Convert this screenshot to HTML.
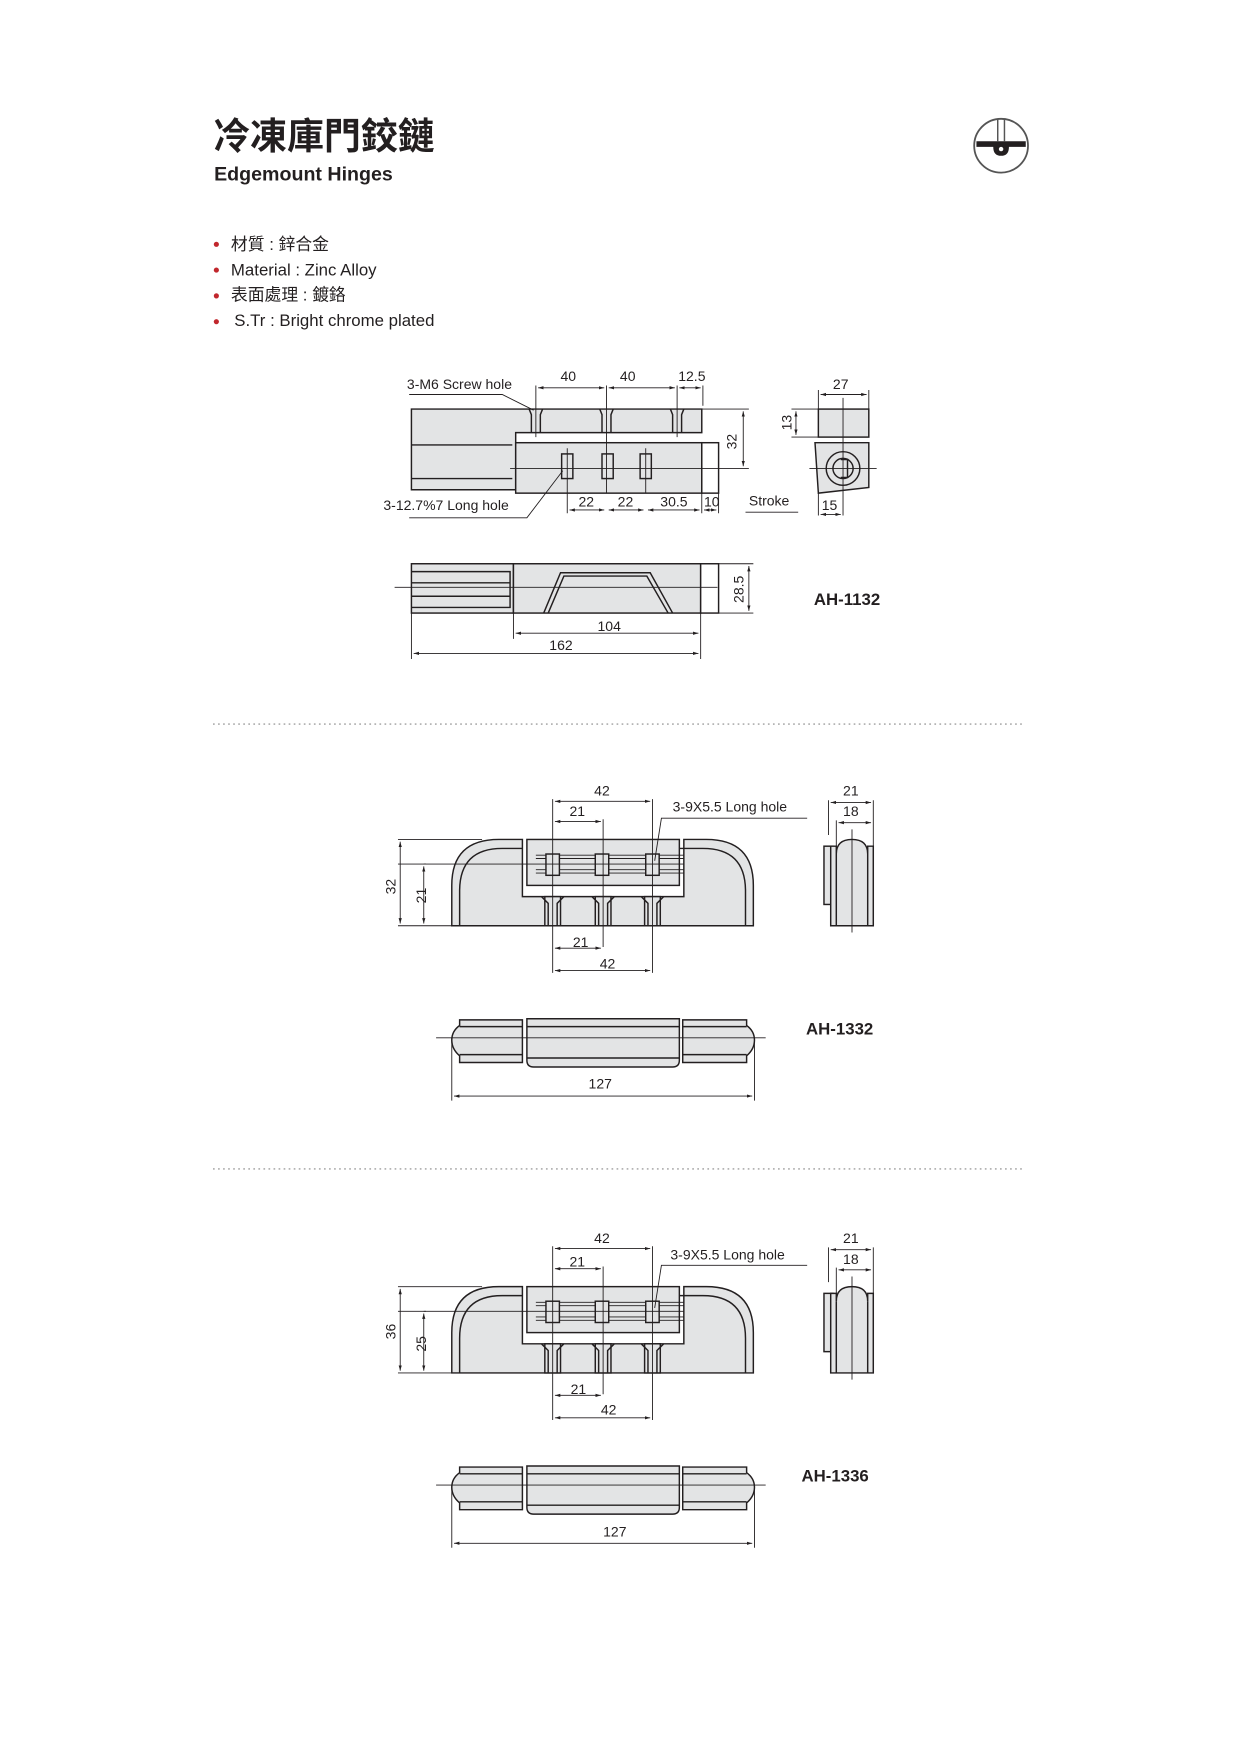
<!DOCTYPE html>
<html><head><meta charset="utf-8"><style>
html,body{margin:0;padding:0;background:#fff;}
svg{display:block;}
text{font-family:"Liberation Sans","Noto Sans CJK TC",sans-serif;fill:#231f20;}
.s{stroke:#231f20;stroke-width:1.3;fill:none;}
.g{fill:#e3e4e5;stroke:#231f20;stroke-width:1.3;}
.t{stroke:#231f20;stroke-width:0.8;fill:none;}
.d{font-size:12.5px;}
</style></head><body>
<svg width="1241" height="1754" viewBox="0 0 1107 1565" preserveAspectRatio="none" xmlns="http://www.w3.org/2000/svg">
<defs>
<marker id="a" viewBox="0 0 10 10" refX="10" refY="5" markerWidth="6" markerHeight="6" orient="auto-start-reverse"><path d="M0,2 L10,5 L0,8z" fill="#231f20"/></marker>
<g id="hinge">
 <path class="g" d="M403,826 L403,790 Q403,749 445,749 L466,749 L466,800 L610,800 L610,749 L630,749 Q672,749 672,790 L672,826 Z"/>
 <path class="s" d="M410,826 L410,795 Q410,757 448,757 L466,757 M603,757 L627,757 Q665,757 665,795 L665,826"/>
 <rect class="g" x="470" y="749" width="136" height="41"/>
 <rect class="g" x="486" y="800" width="14" height="26"/><rect class="g" x="531" y="800" width="14" height="26"/><rect class="g" x="575" y="800" width="14" height="26"/>
 <path class="s" d="M483,800 L489,806 L489,826 M503,800 L497,806 L497,826 M528,800 L534,806 L534,826 M548,800 L542,806 L542,826 M572,800 L578,806 L578,826 M592,800 L586,806 L586,826"/>
 <path class="t" d="M478,766 L610,766 M478,776 L610,776 M478,763 L610,763 M478,779 L610,779"/>
 <rect class="g" x="487" y="762" width="12" height="19"/><rect class="g" x="531" y="762" width="12" height="19"/><rect class="g" x="576" y="762" width="12" height="19"/>
 <path class="t" d="M355,771 L610,771"/>
 <path class="t" d="M355,749 L430,749 M355,826 L403,826 M378,771 L380,771"/>
 <path class="t" marker-start="url(#a)" marker-end="url(#a)" d="M357,751 L357,824"/>
 <path class="t" marker-start="url(#a)" marker-end="url(#a)" d="M378,773 L378,824"/>
 <path class="t" d="M493,713 L493,868 M538,731 L538,845 M582,713 L582,868"/>
 <path class="t" marker-start="url(#a)" marker-end="url(#a)" d="M495,715 L580,715"/>
 <path class="t" marker-start="url(#a)" marker-end="url(#a)" d="M495,733 L536,733"/>
 <path class="t" marker-start="url(#a)" marker-end="url(#a)" d="M495,846 L536,846"/>
 <path class="t" marker-start="url(#a)" marker-end="url(#a)" d="M495,866 L580,866"/>
 <path class="t" d="M720,730 L590,730 L584,768"/>
 <rect class="g" x="735" y="755" width="8" height="52"/>
 <path class="g" d="M741,826 L741,755 L746,755 L746,762 Q746,749 760,749 Q774,749 774,762 L774,755 L779,755 L779,826 Z"/>
 <path class="s" d="M746,762 L746,826 M774,762 L774,826"/>
 <path class="t" d="M760,740 L760,832 M739,714 L739,745 M779,714 L779,755 M746,732 L746,755"/>
 <path class="t" marker-start="url(#a)" marker-end="url(#a)" d="M741,716 L777,716"/>
 <path class="t" marker-start="url(#a)" marker-end="url(#a)" d="M748,734 L777,734"/>
 <path class="g" d="M410,910 L466,910 L466,948 L410,948 L410,942 Q403,936 403,928 Q403,920 410,915 Z"/>
 <path class="s" d="M410,916 L466,916 M410,941 L466,941"/>
 <path class="g" d="M470,909 L606,909 L606,946 Q606,952 600,952 L476,952 Q470,952 470,946 Z"/>
 <path class="s" d="M470,916 L606,916 M470,944 L606,944"/>
 <path class="g" d="M609,910 L666,910 L666,915 Q673,920 673,928 Q673,936 666,942 L666,948 L609,948 Z"/>
 <path class="s" d="M609,916 L666,916 M609,941 L666,941"/>
 <path class="t" d="M389,926 L683,926 M403,926 L403,982 M673,926 L673,982"/>
 <path class="t" marker-start="url(#a)" marker-end="url(#a)" d="M405,978 L671,978"/>
</g>
</defs>

<text x="190" y="133" font-size="33" font-weight="bold" style="font-family:'Noto Sans CJK TC','Liberation Sans',sans-serif">冷凍庫門鉸鏈</text>
<text x="191" y="161" font-size="17.5" font-weight="bold">Edgemount Hinges</text>
<g>
 <circle cx="893" cy="130" r="24" fill="#fff" stroke="#555" stroke-width="1.6"/>
 <path d="M871,126 L915,126 L915,131 L900,131 Q900,139 893,139 Q886,139 886,131 L871,131Z" fill="#231f20"/>
 <circle cx="893" cy="133" r="2" fill="#fff"/>
 <path d="M890,106 L890,126 M896,106 L896,126" stroke="#555" stroke-width="1.3"/>
</g>
<g font-size="15">
 <circle cx="193" cy="218" r="2.3" fill="#c1272d"/><text x="206" y="223">材質 : 鋅合金</text>
 <circle cx="193" cy="241" r="2.3" fill="#c1272d"/><text x="206" y="246">Material : Zinc Alloy</text>
 <circle cx="193" cy="264" r="2.3" fill="#c1272d"/><text x="206" y="268">表面處理 : 鍍鉻</text>
 <circle cx="193" cy="287" r="2.3" fill="#c1272d"/><text x="209" y="291">S.Tr : Bright chrome plated</text>
</g>

<g>
 <path class="g" d="M367,365 L626,365 L626,386 L460,386 L460,437 L367,437 Z"/>
 <path class="s" d="M367,397 L457,397 M367,427 L457,427"/>
 <rect class="g" x="460" y="395" width="166" height="45"/>
 <rect fill="#fff" stroke="#231f20" stroke-width="1.3" x="626" y="395" width="15" height="45"/>
 <path class="s" d="M472,365 L474,370 L474,386 M484,365 L482,370 L482,386 M535,365 L537,370 L537,386 M547,365 L545,370 L545,386 M598,365 L600,370 L600,386 M610,365 L608,370 L608,386"/>
 <rect class="g" x="501" y="405" width="10" height="22"/><rect class="g" x="537" y="405" width="10" height="22"/><rect class="g" x="571" y="405" width="10" height="22"/>
 <path class="t" d="M455,418 L645,418 M506,400 L506,440 M541,344 L541,440 M576,400 L576,440 M478,344 L478,390 M604,344 L604,390 M627,344 L627,362 M626,365 L668,365 M641,418 L668,418"/>
 <path class="t" marker-start="url(#a)" marker-end="url(#a)" d="M480,346 L539,346"/>
 <path class="t" marker-start="url(#a)" marker-end="url(#a)" d="M543,346 L602,346"/>
 <path class="t" marker-start="url(#a)" marker-end="url(#a)" d="M606,346 L625,346"/>
 <path class="t" marker-start="url(#a)" marker-end="url(#a)" d="M663,367 L663,416"/>
 <path class="t" d="M506,440 L506,458 M626,440 L626,458 M641,440 L641,458"/>
 <path class="t" marker-start="url(#a)" marker-end="url(#a)" d="M508,455 L539,455"/>
 <path class="t" marker-start="url(#a)" marker-end="url(#a)" d="M543,455 L574,455"/>
 <path class="t" marker-start="url(#a)" marker-end="url(#a)" d="M578,455 L624,455"/>
 <path class="t" marker-start="url(#a)" marker-end="url(#a)" d="M628,455 L639,455"/>
 <text class="d" x="500" y="340">40</text><text class="d" x="553" y="340">40</text><text class="d" x="605" y="340">12.5</text>
 <text class="d" transform="translate(657,401) rotate(-90)">32</text>
 <text class="d" x="516" y="452">22</text><text class="d" x="551" y="452">22</text><text class="d" x="589" y="452">30.5</text><text class="d" x="628" y="452" font-size="11">10</text>
 <text class="d" x="363" y="347">3-M6 Screw hole</text>
 <path class="t" d="M365,352 L448,352 L476,366"/>
 <text class="d" x="342" y="455">3-12.7%7 Long hole</text>
 <path class="t" d="M365,462 L470,462 L502,420"/>
 <text class="d" x="668" y="451">Stroke</text>
 <path class="t" d="M665,457 L712,457"/>
 <rect class="g" x="730" y="365" width="45" height="25"/>
 <path class="g" d="M727,395 L775,395 L775,435 L730,440 Z"/>
 <circle class="s" cx="752" cy="418" r="15"/><circle class="s" cx="752" cy="418" r="9"/>
 <path class="s" d="M750,410 L756,410 L756,426 L750,426"/>
 <path class="t" d="M752,355 L752,460 M722,418 L782,418 M730,348 L730,365 M775,348 L775,365 M706,365 L730,365 M706,390 L730,390 M730,440 L730,460"/>
 <path class="t" marker-start="url(#a)" marker-end="url(#a)" d="M732,352 L773,352"/>
 <path class="t" marker-start="url(#a)" marker-end="url(#a)" d="M710,367 L710,388"/>
 <path class="t" marker-start="url(#a)" marker-end="url(#a)" d="M732,459 L750,459"/>
 <text class="d" x="743" y="347">27</text>
 <text class="d" transform="translate(706,384) rotate(-90)">13</text>
 <text class="d" x="733" y="455">15</text>
 <rect class="g" x="367" y="503" width="91" height="44"/>
 <path class="s" d="M367,510 L455,510 L455,542 L367,542 M367,520 L455,520 M367,532 L455,532"/>
 <rect class="g" x="458" y="503" width="167" height="44"/>
 <rect fill="#fff" stroke="#231f20" stroke-width="1.3" x="625" y="503" width="16" height="44"/>
 <path class="s" d="M485,547 L500,511 L580,511 L600,547 M489,547 L503,514 L577,514 L596,547"/>
 <path class="t" d="M352,524 L640,524 M641,503 L672,503 M641,547 L672,547 M458,547 L458,570 M625,547 L625,588 M367,547 L367,588"/>
 <path class="t" marker-start="url(#a)" marker-end="url(#a)" d="M668,505 L668,545"/>
 <path class="t" marker-start="url(#a)" marker-end="url(#a)" d="M460,565 L623,565"/>
 <path class="t" marker-start="url(#a)" marker-end="url(#a)" d="M369,583 L623,583"/>
 <text class="d" transform="translate(663,538) rotate(-90)">28.5</text>
 <text class="d" x="533" y="563">104</text><text class="d" x="490" y="580">162</text>
 <text x="726" y="540" font-size="15" font-weight="bold">AH-1132</text>
</g>

<line x1="190" y1="646" x2="913" y2="646" stroke="#888" stroke-width="1" stroke-dasharray="1.5,3"/>
<line x1="190" y1="1043" x2="913" y2="1043" stroke="#888" stroke-width="1" stroke-dasharray="1.5,3"/>

<use href="#hinge"/>
<g class="d">
 <text x="530" y="710">42</text><text x="508" y="728">21</text>
 <text x="511" y="845">21</text><text x="535" y="864">42</text>
 <text x="600" y="724">3-9X5.5 Long hole</text>
 <text transform="translate(353,798) rotate(-90)">32</text>
 <text transform="translate(380,806) rotate(-90)">21</text>
 <text x="752" y="710">21</text><text x="752" y="728">18</text>
 <text x="525" y="971">127</text>
</g>
<text x="719" y="923" font-size="15" font-weight="bold">AH-1332</text>

<use href="#hinge" transform="translate(0,399)"/>
<g class="d">
 <text x="530" y="1109">42</text><text x="508" y="1130">21</text>
 <text x="509" y="1244">21</text><text x="536" y="1262">42</text>
 <text x="598" y="1124">3-9X5.5 Long hole</text>
 <text transform="translate(353,1195) rotate(-90)">36</text>
 <text transform="translate(380,1206) rotate(-90)">25</text>
 <text x="752" y="1109">21</text><text x="752" y="1128">18</text>
 <text x="538" y="1371">127</text>
</g>
<text x="715" y="1322" font-size="15" font-weight="bold">AH-1336</text>
</svg>
</body></html>
